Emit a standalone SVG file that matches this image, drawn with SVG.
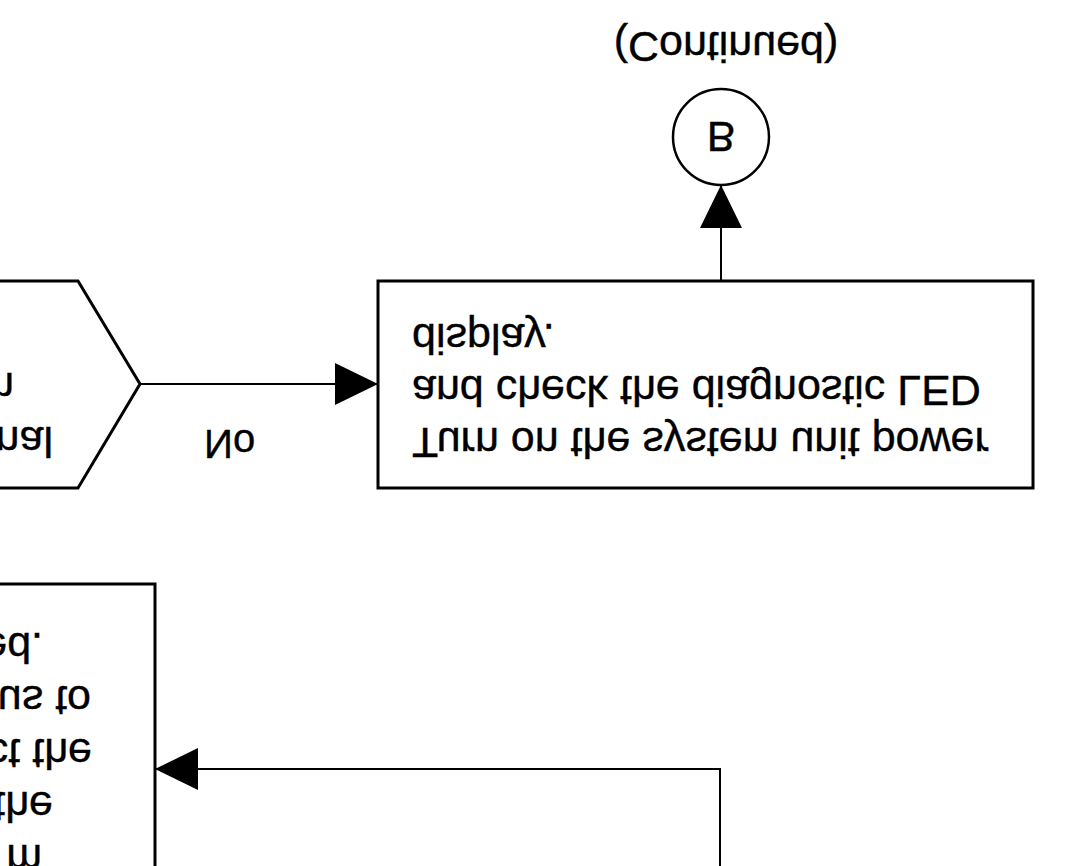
<svg xmlns="http://www.w3.org/2000/svg" width="1069" height="866" viewBox="0 0 1069 866">
<defs>
<marker id="ah" markerWidth="43" markerHeight="42" refX="43" refY="21" orient="auto" markerUnits="userSpaceOnUse"><path d="M0,0 L43,21 L0,42 Z" fill="#000"/></marker>
</defs>
<style>
.shape{fill:#fff;stroke:#000;stroke-width:3}
.conn{fill:none;stroke:#000;stroke-width:2}
text{font-family:"Liberation Sans",Arial,sans-serif;font-size:43px;fill:#000;stroke:#000;stroke-width:0.4}
</style>
<rect width="1069" height="866" fill="#fff"/>
<g transform="matrix(1 0 0 -1 0 866)">
  <g id="decision">
    <polygon class="shape" points="78,378 140,482 78,585 -300,585 -362,482 -300,378"/>
    <text x="53" y="439" text-anchor="end">nal</text>
    <text x="14" y="493" text-anchor="end">m</text>
  </g>
  <g id="power-on">
    <rect class="shape" x="378" y="378" width="655" height="207"/>
    <text x="412" y="438">Turn on the system unit power</text>
    <text x="412" y="490">and check the diagnostic LED</text>
    <text x="412" y="542">display.</text>
  </g>
  <g id="connector-b">
    <circle class="shape" cx="721" cy="729" r="48" style="stroke-width:2.5"/>
    <text x="721" y="744" text-anchor="middle">B</text>
    <text x="726" y="834" text-anchor="middle">(Continued)</text>
  </g>
  <g id="lower-box">
    <rect class="shape" x="-20" y="-20" width="175" height="302"/>
    <text x="43" y="233" text-anchor="end">ed.</text>
    <text x="91" y="180" text-anchor="end">us to</text>
    <text x="92" y="127" text-anchor="end">ct the</text>
    <text x="53" y="74" text-anchor="end">the</text>
    <text x="42" y="21" text-anchor="end">m</text>
  </g>
  <g id="connectors">
    <path class="conn" d="M140,482 L378,482" marker-end="url(#ah)"/>
    <path class="conn" d="M721,585 L721,681" marker-end="url(#ah)"/>
    <path class="conn" d="M720,-5 L720,97 L155,97" marker-end="url(#ah)"/>
    <text x="204" y="436" style="font-size:40px">No</text>
  </g>
</g>
</svg>
